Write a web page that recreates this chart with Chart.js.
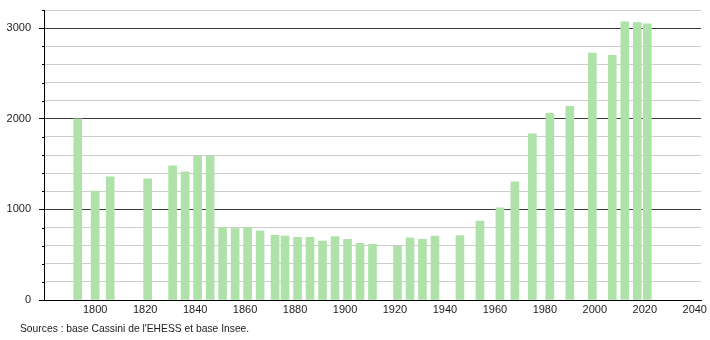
<!DOCTYPE html>
<html>
<head>
<meta charset="utf-8">
<script src="https://cdn.jsdelivr.net/npm/chart.js@4"></script>
<style>
  html, body { margin: 0; padding: 0; background: #fff; }
  #wrap { position: relative; width: 710px; height: 340px; }
</style>
</head>
<body>
<div id="wrap"><canvas id="c" width="710" height="340"></canvas></div>
<script>
const years = [1793,1800,1806,1821,1831,1836,1841,1846,1851,1856,1861,1866,1872,1876,1881,1886,1891,1896,1901,1906,1911,1921,1926,1931,1936,1946,1954,1962,1968,1975,1982,1990,1999,2007,2012,2017,2021];
const population = [2000,1203,1359,1337,1481,1414,1584,1584,800,789,800,762,714,707,692,692,651,700,670,626,614,592,685,670,705,710,870,1016,1303,1833,2059,2137,2726,2700,3070,3062,3048];
const xTickLabels = [1800,1820,1840,1860,1880,1900,1920,1940,1960,1980,2000,2020,2040];
const yMajorTicks = [0,1000,2000,3000];
const sourceText = "Sources : base Cassini de l'EHESS et base Insee.";

const FONT = "'Liberation Sans', Arial, sans-serif";

const extras = {
  id: 'extras',
  afterDraw(chart) {
    const ctx = chart.ctx;
    const y = chart.scales.y;
    ctx.save();
    ctx.strokeStyle = '#000';
    ctx.lineWidth = 1;
    y.ticks.forEach(t => {
      if (t.value % 1000 !== 0) {
        const py = Math.round(y.getPixelForValue(t.value)) + 0.5;
        ctx.beginPath();
        ctx.moveTo(y.right - 2, py);
        ctx.lineTo(y.right, py);
        ctx.stroke();
      }
    });
    ctx.fillStyle = '#222';
    ctx.font = '10.3px ' + FONT;
    ctx.textBaseline = 'middle';
    ctx.textAlign = 'left';
    ctx.fillText(sourceText, 20, 329);
    ctx.restore();
  }
};

new Chart(document.getElementById('c'), {
  type: 'bar',
  data: {
    datasets: [{
      data: years.map((yr, i) => ({ x: yr, y: population[i] })),
      backgroundColor: 'rgb(174,226,168)',
      borderWidth: 0,
      barThickness: 8
    }]
  },
  options: {
    responsive: false,
    animation: false,
    devicePixelRatio: 1,
    layout: { padding: { left: 0, right: 9, top: 10, bottom: 0 } },
    plugins: { legend: { display: false }, tooltip: { enabled: false }, title: { display: false } },
    scales: {
      x: {
        type: 'linear',
        min: 1779.5,
        max: 2042.5,
        offset: false,
        grid: { display: false, offset: false, drawTicks: false },
        border: { display: true, color: '#000', width: 1 },
        afterBuildTicks: s => { s.ticks = xTickLabels.map(v => ({ value: v })); },
        afterFit: s => { s.height = 40; s.paddingLeft = 0; s.paddingRight = 0; },
        ticks: {
          padding: 3,
          color: '#222',
          font: { family: FONT, size: 11 },
          maxRotation: 0,
          autoSkip: false,
          callback: v => String(v)
        }
      },
      y: {
        min: 0,
        max: 3200,
        afterFit: s => { s.width = 44; s.paddingTop = 0; s.paddingBottom = 0; },
        grid: {
          color: c => (c.tick && c.tick.value % 1000 === 0) ? '#3a3a3a' : '#cdcdcd',
          tickColor: c => (c.tick && c.tick.value % 1000 === 0) ? '#000' : 'rgba(0,0,0,0)',
          tickLength: 5,
          lineWidth: 1
        },
        border: { display: true, color: '#000', width: 1 },
        ticks: {
          stepSize: 200,
          padding: 8,
          color: '#222',
          font: { family: FONT, size: 11 },
          autoSkip: false,
          callback: v => yMajorTicks.includes(v) ? String(v) : ''
        }
      }
    }
  },
  plugins: [extras]
});
</script>
</body>
</html>
